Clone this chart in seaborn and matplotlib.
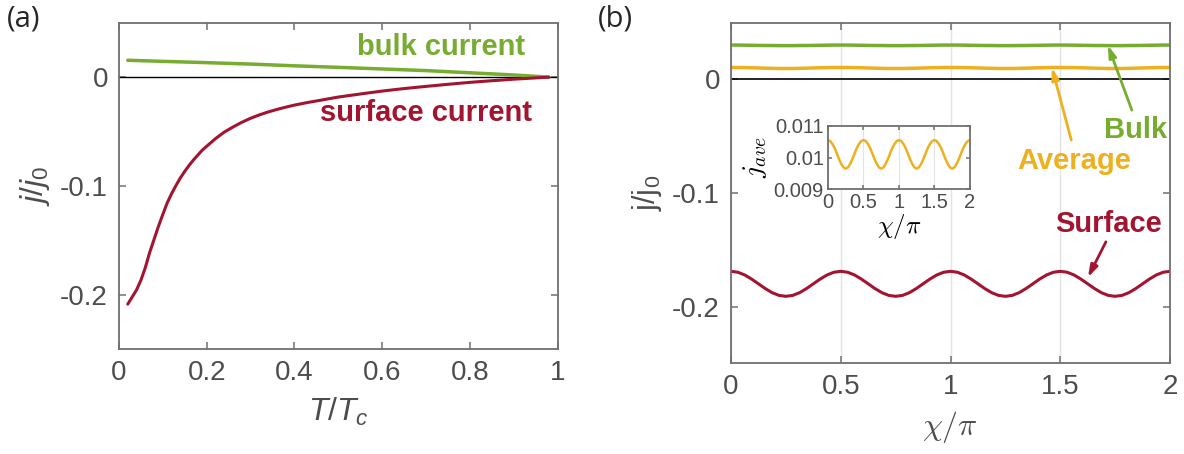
import numpy as np
import pandas as pd
import matplotlib.pyplot as plt
import seaborn as sns

sns.set_style('ticks')
plt.rcParams['font.family'] = ['Liberation Sans', 'DejaVu Sans']
plt.rcParams['axes.unicode_minus'] = False
plt.rcParams['mathtext.fontset'] = 'custom'
plt.rcParams['mathtext.it'] = 'Liberation Sans:italic'
plt.rcParams['mathtext.rm'] = 'Liberation Sans'
plt.rcParams['mathtext.bf'] = 'Liberation Sans:bold'

# panel (a): currents vs temperature
t_surf = [0.02, 0.03, 0.04, 0.05, 0.06, 0.07, 0.08, 0.09, 0.10, 0.11, 0.12, 0.13, 0.14,
          0.15, 0.16, 0.17, 0.18, 0.19, 0.20, 0.22, 0.24, 0.26, 0.28, 0.30, 0.32, 0.34,
          0.36, 0.38, 0.40, 0.43, 0.46, 0.50, 0.55, 0.60, 0.65, 0.70, 0.75, 0.80, 0.85,
          0.90, 0.95, 0.98]
surface_a = [-0.2085, -0.202, -0.1955, -0.1865, -0.175, -0.161, -0.149, -0.137, -0.126,
             -0.1155, -0.107, -0.0995, -0.0925, -0.0865, -0.081, -0.076, -0.0715, -0.067,
             -0.0635, -0.0565, -0.0505, -0.0458, -0.0415, -0.0378, -0.0347, -0.0320,
             -0.0297, -0.0276, -0.0257, -0.0233, -0.0212, -0.0183, -0.0155, -0.0128,
             -0.0105, -0.0085, -0.0066, -0.0048, -0.0033, -0.0019, -0.0007, 0.0]
t_bulk = [0.02, 0.10, 0.20, 0.30, 0.40, 0.50, 0.60, 0.70, 0.80, 0.90, 0.98]
bulk_a = [0.0155, 0.0145, 0.0133, 0.0120, 0.0104, 0.0090, 0.0075, 0.0060, 0.0040, 0.0020, 0.0]

# panel (b): currents vs phase chi/pi, sampled every 1/32
chi = np.arange(65) / 32
surface_b = [-0.1690, -0.1698, -0.1722, -0.1758, -0.1800, -0.1842, -0.1878, -0.1902,
             -0.1910, -0.1902, -0.1878, -0.1842, -0.1800, -0.1758, -0.1722, -0.1698,
             -0.1690, -0.1698, -0.1722, -0.1758, -0.1800, -0.1842, -0.1878, -0.1902,
             -0.1910, -0.1902, -0.1878, -0.1842, -0.1800, -0.1758, -0.1722, -0.1698,
             -0.1690, -0.1698, -0.1722, -0.1758, -0.1800, -0.1842, -0.1878, -0.1902,
             -0.1910, -0.1902, -0.1878, -0.1842, -0.1800, -0.1758, -0.1722, -0.1698,
             -0.1690, -0.1698, -0.1722, -0.1758, -0.1800, -0.1842, -0.1878, -0.1902,
             -0.1910, -0.1902, -0.1878, -0.1842, -0.1800, -0.1758, -0.1722, -0.1698,
             -0.1690]
average_b = [0.01055, 0.01052, 0.01043, 0.01030, 0.01013, 0.00995, 0.00980, 0.00969,
             0.00965, 0.00969, 0.00980, 0.00995, 0.01013, 0.01030, 0.01043, 0.01052,
             0.01055, 0.01052, 0.01043, 0.01030, 0.01013, 0.00995, 0.00980, 0.00969,
             0.00965, 0.00969, 0.00980, 0.00995, 0.01013, 0.01030, 0.01043, 0.01052,
             0.01055, 0.01052, 0.01043, 0.01030, 0.01013, 0.00995, 0.00980, 0.00969,
             0.00965, 0.00969, 0.00980, 0.00995, 0.01013, 0.01030, 0.01043, 0.01052,
             0.01055, 0.01052, 0.01043, 0.01030, 0.01013, 0.00995, 0.00980, 0.00969,
             0.00965, 0.00969, 0.00980, 0.00995, 0.01013, 0.01030, 0.01043, 0.01052,
             0.01055]
bulk_b = [0.0303, 0.0303, 0.0302, 0.0301, 0.0300, 0.0299, 0.0299, 0.0298,
          0.0298, 0.0298, 0.0299, 0.0299, 0.0300, 0.0301, 0.0302, 0.0303,
          0.0303, 0.0303, 0.0302, 0.0301, 0.0300, 0.0299, 0.0299, 0.0298,
          0.0298, 0.0298, 0.0299, 0.0299, 0.0300, 0.0301, 0.0302, 0.0303,
          0.0303, 0.0303, 0.0302, 0.0301, 0.0300, 0.0299, 0.0299, 0.0298,
          0.0298, 0.0298, 0.0299, 0.0299, 0.0300, 0.0301, 0.0302, 0.0303,
          0.0303, 0.0303, 0.0302, 0.0301, 0.0300, 0.0299, 0.0299, 0.0298,
          0.0298, 0.0298, 0.0299, 0.0299, 0.0300, 0.0301, 0.0302, 0.0303,
          0.0303]

GREEN = '#77AC30'
RED = '#A2142F'
YELLOW = '#EDB120'
GRAY = '#4d4d4d'
SPINE = '#707070'


def style_axes(ax, size=20, length=5):
    for s in ax.spines.values():
        s.set_color(SPINE)
        s.set_linewidth(1.3)
    ax.tick_params(direction='in', top=True, right=True, length=length, width=1.1,
                   color=SPINE, labelcolor=GRAY, labelsize=size, pad=8)


fig = plt.figure(figsize=(11.84, 4.54), dpi=100)

# ---- panel (a)
ax1 = fig.add_axes([0.1005, 0.2306, 0.3704, 0.7194])
ax1.axhline(0, color='black', lw=1.0, zorder=1)
sns.lineplot(x=t_bulk, y=bulk_a, ax=ax1, color=GREEN, lw=2.5)
sns.lineplot(x=t_surf, y=surface_a, ax=ax1, color=RED, lw=2.2)
ax1.set_xlim(0, 1)
ax1.set_ylim(-0.25, 0.05)
ax1.set_xticks([0, 0.2, 0.4, 0.6, 0.8, 1])
ax1.set_xticklabels(['0', '0.2', '0.4', '0.6', '0.8', '1'])
ax1.set_yticks([-0.2, -0.1, 0])
ax1.set_yticklabels(['-0.2', '-0.1', '0'])
style_axes(ax1)
ax1.set_xlabel(r'$T/T_c$', fontsize=23, color=GRAY, labelpad=7)
ax1.set_ylabel(r'$j/j_0$', fontsize=23, color=GRAY, labelpad=6)
ax1.text(0.734, 0.028, 'bulk current', color=GREEN, fontsize=21, fontweight='bold',
         ha='center', va='center')
ax1.text(0.700, -0.0333, 'surface current', color=RED, fontsize=21, fontweight='bold',
         ha='center', va='center')

# ---- panel (b)
ax2 = fig.add_axes([0.6174, 0.1998, 0.3708, 0.7502])
ax2.grid(axis='x', color='#e3e3e3', lw=1.0)
ax2.axhline(0, color='black', lw=1.2, zorder=1)
sns.lineplot(x=chi, y=bulk_b, ax=ax2, color=GREEN, lw=2.5)
sns.lineplot(x=chi, y=average_b, ax=ax2, color=YELLOW, lw=2.5)
sns.lineplot(x=chi, y=surface_b, ax=ax2, color=RED, lw=2.2)
ax2.set_xlim(0, 2)
ax2.set_ylim(-0.25, 0.05)
ax2.set_xticks([0, 0.5, 1, 1.5, 2])
ax2.set_xticklabels(['0', '0.5', '1', '1.5', '2'])
ax2.set_yticks([-0.2, -0.1, 0])
ax2.set_yticklabels(['-0.2', '-0.1', '0'])
style_axes(ax2)
ax2.set_xlabel(r'$\chi/\pi$', fontsize=23, color=GRAY, labelpad=6, math_fontfamily='cm')
ax2.set_ylabel(r'j/j$_\mathregular{0}$', fontsize=22, color=GRAY, labelpad=6)

arrow = dict(arrowstyle='-|>,head_width=0.22,head_length=0.7', lw=2.0, shrinkA=0, shrinkB=0)
ax2.text(1.845, -0.0445, 'Bulk', color=GREEN, fontsize=21, fontweight='bold',
         ha='center', va='center')
ax2.annotate('', xy=(1.717, 0.0302), xytext=(1.826, -0.027),
             arrowprops=dict(arrow, color=GREEN))
ax2.text(1.563, -0.0719, 'Average', color=YELLOW, fontsize=21, fontweight='bold',
         ha='center', va='center')
ax2.annotate('', xy=(1.462, 0.0105), xytext=(1.550, -0.0533),
             arrowprops=dict(arrow, color=YELLOW))
ax2.text(1.718, -0.1274, 'Surface', color=RED, fontsize=21, fontweight='bold',
         ha='center', va='center')
ax2.annotate('', xy=(1.626, -0.1743), xytext=(1.708, -0.143),
             arrowprops=dict(arrow, color=RED))

# ---- inset
ax3 = fig.add_axes([0.6993, 0.5830, 0.1199, 0.1399])
ax3.grid(axis='x', color='#e3e3e3', lw=0.8)
sns.lineplot(x=chi, y=average_b, ax=ax3, color=YELLOW, lw=1.8)
ax3.set_xlim(0, 2)
ax3.set_ylim(0.009, 0.011)
ax3.set_xticks([0, 0.5, 1, 1.5, 2])
ax3.set_xticklabels(['0', '0.5', '1', '1.5', '2'])
ax3.set_yticks([0.009, 0.01, 0.011])
ax3.set_yticklabels(['0.009', '0.01', '0.011'])
style_axes(ax3, size=14.5, length=3)
ax3.tick_params(pad=3)
ax3.set_xlabel(r'$\chi/\pi$', fontsize=18, color='black', labelpad=0, math_fontfamily='cm')
ax3.set_ylabel(r'$j_{ave}$', fontsize=20, color='black', labelpad=3, math_fontfamily='cm')

fig.text(0.006, 0.99, '(a)', fontsize=21, family=['Open Sans', 'DejaVu Sans'], va='top', ha='left')
fig.text(0.505, 0.99, '(b)', fontsize=21, family=['Open Sans', 'DejaVu Sans'], va='top', ha='left')

fig.savefig('out.png', dpi=100)
